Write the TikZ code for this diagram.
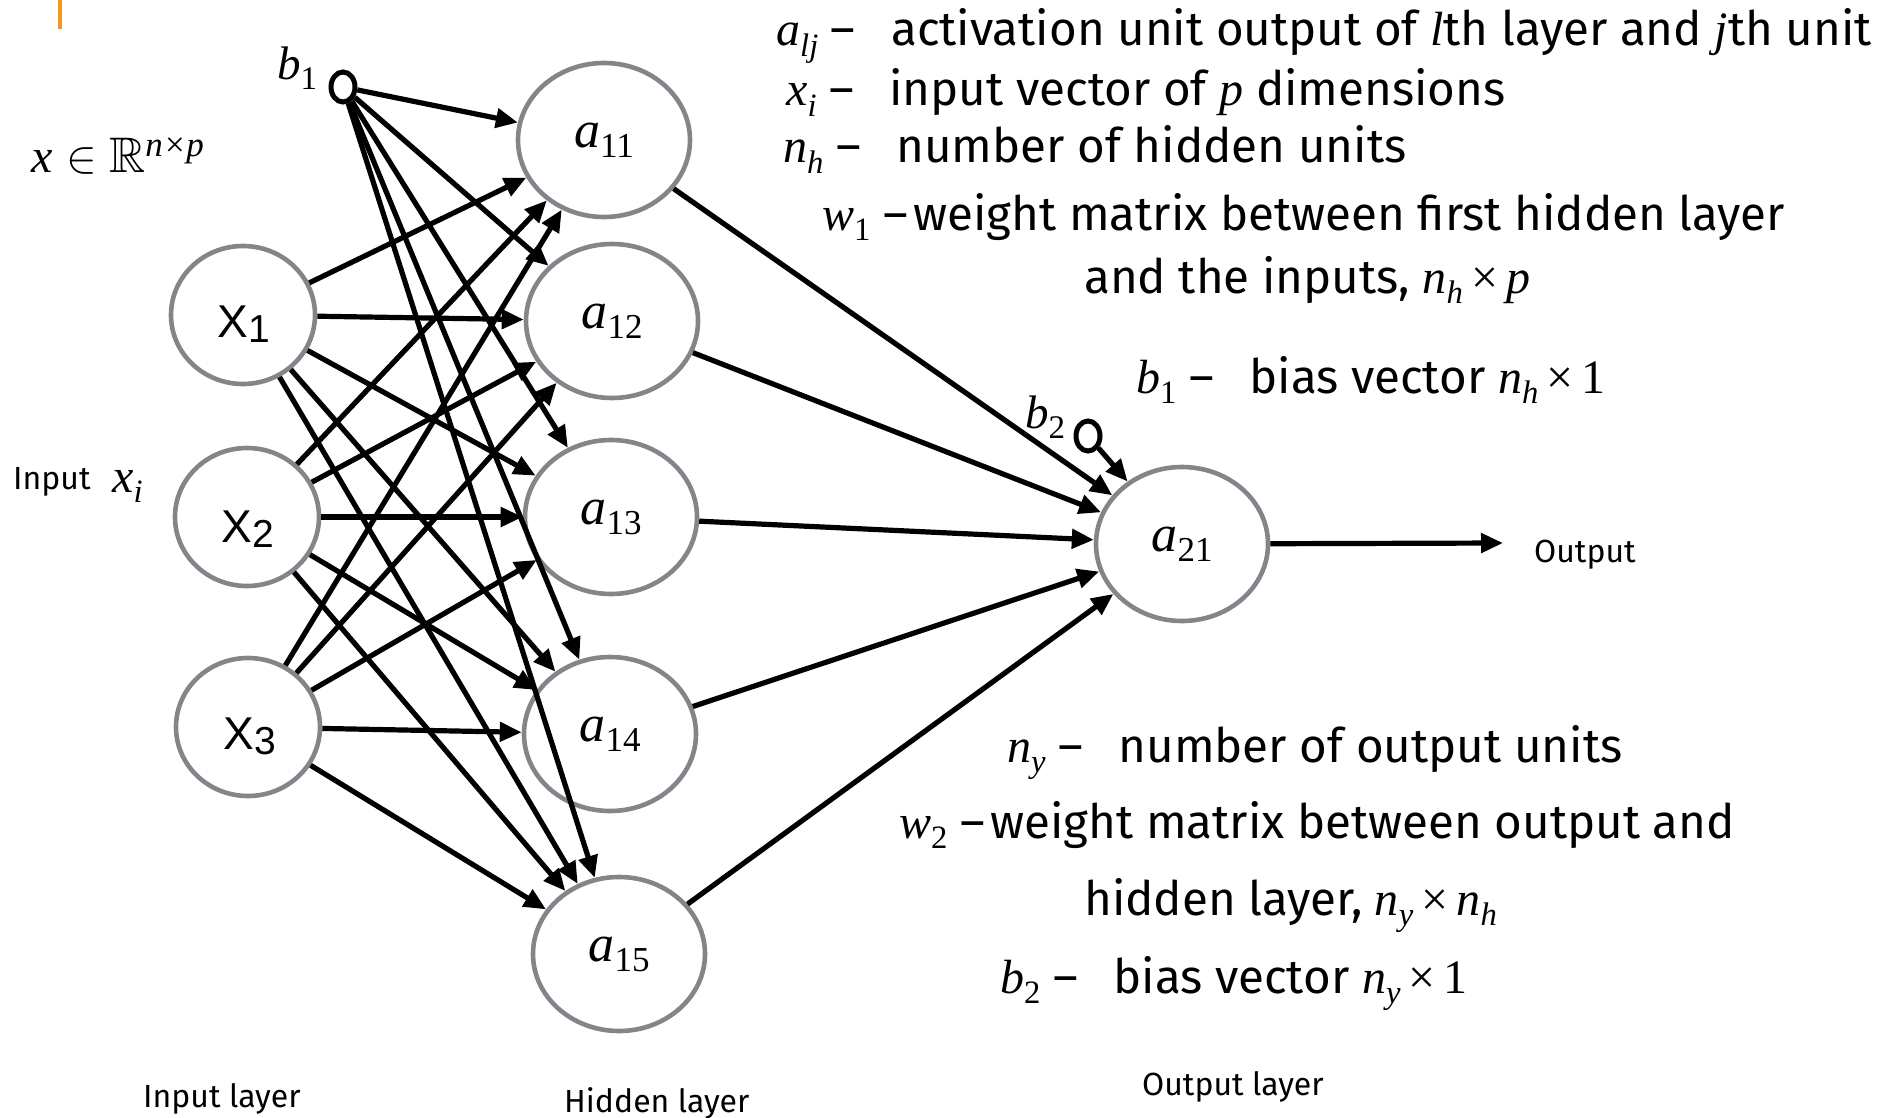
\documentclass[tikz,border=0pt]{standalone}
\usepackage{fontspec}
\usepackage{amssymb}
\usepackage{graphicx}
\setmainfont{Fira Sans}
\newfontfamily\tms{Liberation Serif}
\newfontfamily\hel{Liberation Sans}
\usetikzlibrary{arrows.meta,shapes.geometric}
\definecolor{ngray}{RGB}{130,133,137}
\definecolor{obar}{RGB}{247,150,30}
\newcommand\iv[1]{{\tms\itshape #1}}
\newcommand\sbx[1]{\raisebox{-0.22em}{\scalebox{0.68}{\tms #1}}}
\newcommand\msz{\fontsize{48}{54}\selectfont}
\newcommand\tsz{\fontsize{47.5}{56}\selectfont}
\newcommand\ssz{\fontsize{32}{38}\selectfont}
\newcommand\dsh{\ –\hspace{0.75em}}
\newcommand\xl[1]{{\hel\fontsize{46}{50}\selectfont X\raisebox{-5pt}{\fontsize{39}{44}\selectfont #1}}}
\newcommand\al[1]{{\tms\fontsize{52}{60}\selectfont\itshape a\/}\raisebox{-10pt}{\tms\fontsize{35}{40}\selectfont #1}}
\begin{document}
\begin{tikzpicture}[x=1pt,y=-1pt,
  inp/.style={ellipse, draw=ngray, line width=4.6pt, minimum width=144pt, minimum height=138pt, inner sep=0pt},
  hid/.style={ellipse, draw=ngray, line width=4.6pt, minimum width=172pt, minimum height=154pt, inner sep=0pt},
  bias/.style={ellipse, draw=black, line width=5pt, minimum width=24pt, minimum height=30pt, inner sep=0pt},
  conn/.style={line width=5.2pt, -{Triangle[length=22pt,width=19pt]}},
  xlab/.style={anchor=base, inner sep=0pt},
  txt/.style={anchor=base west, inner sep=0pt, font=\tsz},
  sml/.style={anchor=base west, inner sep=0pt, font=\ssz}]
\useasboundingbox (0,0) rectangle (1895,1118);
\fill[obar] (57.5,0) rectangle (61.5,29);

% input layer
\node[inp] (X1) at (243,315) {};
\node[inp] (X2) at (247,517) {};
\node[inp] (X3) at (248,727) {};
\node[xlab] (X1t) at (244,337) {\xl{1}};
\node[xlab] (X2t) at (248,542) {\xl{2}};
\node[xlab] (X3t) at (250,749) {\xl{3}};
% hidden layer
\node[hid] (a11) at (604,140) {\al{11}};
\node[hid] (a12) at (612,321) {\al{12}};
\node[hid] (a13) at (611,517) {\al{13}};
\node[hid] (a14) at (610,734) {\al{14}};
\node[hid] (a15) at (619,954) {\al{15}};
% output
\node[hid] (a21) at (1182,544) {\al{21}};
% biases
\node[bias] (b1) at (343,87) {};
\node[bias] (b2) at (1088,436) {};
\node[anchor=base west, inner sep=0pt] (b1l) at (277,80) {{\tms\fontsize{47}{52}\selectfont\itshape b\/}\raisebox{-10pt}{\tms\fontsize{33}{38}\selectfont 1}};
\node[anchor=base west, inner sep=0pt] (b2l) at (1025,428) {{\tms\fontsize{47}{52}\selectfont\itshape b\/}\raisebox{-10pt}{\tms\fontsize{33}{38}\selectfont 2}};

% connectors
\foreach \i in {X1,X2,X3}{
  \foreach \j in {a11,a12,a13,a14,a15}{
    \draw[conn] (\i) -- (\j);
  }
}
\foreach \j in {a11,a12,a13,a14,a15}{
  \draw[conn] (b1) -- (\j);
  \draw[conn] (\j) -- (a21);
}
\draw[conn] (b2) -- (a21);
\coordinate (out) at (1503,543);
\draw[conn] (a21) -- (out);
\node[sml] (outl) at (1534,562) {Output};

% left labels
\node[anchor=base west, inner sep=0pt] (xr) at (31,173) {{\tms\fontsize{48}{52}\selectfont\itshape x}\hspace{14pt}\scalebox{4.6}{$\in$}\hspace{12pt}\scalebox{5}{$\mathbb{R}$}\raisebox{16pt}{{\tms\fontsize{35}{40}\selectfont\itshape n×p}}};
\node[sml] (inl) at (13,489) {Input};
\node[anchor=base west, inner sep=0pt] (xil) at (112,492) {\msz\iv{x}\sbx{\itshape i}};
\node[sml] (inlay) at (143,1107) {Input layer};
\node[sml] (hidlay) at (564,1112) {Hidden layer};
\node[sml] (outlay) at (1142,1095) {Output layer};

% legend top
\node[txt] (t1) at (776,46) {{\msz\iv{a}\sbx{\itshape lj}}\dsh activation unit output of {\msz\iv{l}}th layer and {\msz\iv{j}}th unit};
\node[txt] (t2) at (786,106) {{\msz\iv{x}\sbx{\itshape i}}\dsh input vector of {\msz\iv{p}} dimensions};
\node[txt] (t3) at (783,163) {{\msz\iv{n}\sbx{\itshape h}}\dsh number of hidden units};
\node[txt] (t4) at (822,230) {{\msz\iv{w}\sbx{1}}\ –\hspace{0.12em}weight matrix between first hidden layer};
\node[txt] (t5) at (1084,293) {and the inputs, {\msz\iv{n}\sbx{\itshape h}\,{\tms ×}\,\iv{p}}};
\node[txt] (t6) at (1136,393) {{\msz\iv{b}\sbx{1}}\dsh bias vector {\msz\iv{n}\sbx{\itshape h}\,{\tms ×}\,{\tms 1}}};
% legend bottom
\node[txt] (t7) at (1007,762) {{\msz\iv{n}\sbx{\itshape y}}\dsh number of output units};
\node[txt] (t8) at (899,838) {{\msz\iv{w}\sbx{2}}\ –\hspace{0.12em}weight matrix between output and};
\node[txt] (t9) at (1084,915) {hidden layer, {\msz\iv{n}\sbx{\itshape y}\,{\tms ×}\,\iv{n}\sbx{\itshape h}}};
\node[txt] (t10) at (1000,993) {{\msz\iv{b}\sbx{2}}\dsh bias vector {\msz\iv{n}\sbx{\itshape y}\,{\tms ×}\,{\tms 1}}};
\end{tikzpicture}
\end{document}
